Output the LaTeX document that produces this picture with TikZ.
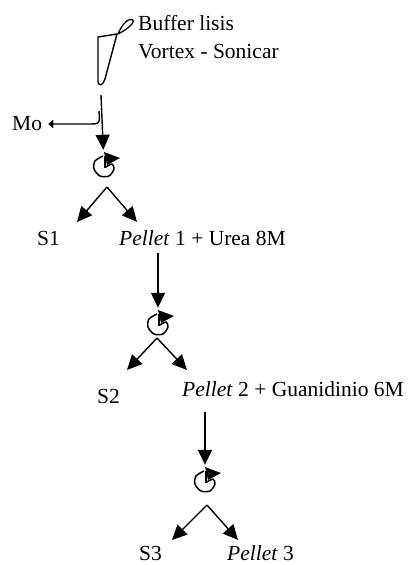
\documentclass[tikz,border=0pt]{standalone}
\usepackage{fontspec}
\setmainfont{Liberation Serif}
\usetikzlibrary{arrows.meta}

\tikzset{
	flow/.style={-{Triangle[width=14pt,length=15pt]}, line width=1.4pt},
	sidearrow/.style={-{Triangle[width=8pt,length=5pt]}, line width=1.4pt},
	tag/.style={inner sep=0, anchor=base west, font=\fontsize{21.5}{25}\selectfont},
	rotor/.style={minimum size=32pt, inner sep=0},
	pics/spin/.style={code={
		\draw[line width=1.5pt, line join=round]
			plot[smooth] coordinates {(-1,-10) (-9,-5) (-10,3) (-4,10) (5,10) (10,3) (8,-2) (2,1)};
		\draw[line width=1.5pt]
			(1,2) -- (1,-10);
		\fill
			(0,-14) -- (16,-8) -- (3,-1) -- cycle;
	}}
}

\begin{document}
\begin{tikzpicture}[x=1pt, y=-1pt]
			\useasboundingbox (0,0) rectangle (414,565);

			% tube
			\draw[line width=1.4pt, line join=round]
				(98,37) -- (117,34) -- (105,79) .. controls (103,85) and (99,87) .. (98,82) -- cycle;
			\draw[line width=1.3pt]
				(118,34) .. controls (122,24) and (129,17) .. (133,20) .. controls (135,24) and (124,31) .. (118,34);
			\node[tag] (buffer) at (138,30)
				{Buffer lisis};
			\node[tag] (vortex) at (138,58)
				{Vortex - Sonicar};
			\coordinate (tube) at (101,95);

			% step 1
			\node[rotor] (r1) at (104,166) {};
			\pic at (r1) {spin};
			\draw[flow]
				(tube) -- (r1);
			\node[tag] (mo) at (12,130)
				{Mo};
			\coordinate (split) at (99,111);
			\draw[sidearrow]
				(split) .. controls (100,124) .. (88,124) -- ([xshift=6pt]mo.east |- 0,124);
			\coordinate (a1) at (107,187);
			\coordinate (s1tip) at (77,222);
			\coordinate (p1tip) at (137,222);
			\draw[flow]
				(a1) -- (s1tip);
			\draw[flow]
				(a1) -- (p1tip);
			\node[tag] (s1) at (37,245)
				{S1};
			\node[tag] (p1) at (119,245)
				{\textit{Pellet} 1 + Urea 8M};

			% step 2
			\node[rotor] (r2) at (158,324) {};
			\pic at (r2) {spin};
			\draw[flow, shorten <=8pt]
				(p1.south -| r2) -- (r2);
			\coordinate (a2) at (157,338);
			\coordinate (s2tip) at (127,370);
			\coordinate (p2tip) at (187,370);
			\draw[flow]
				(a2) -- (s2tip);
			\draw[flow]
				(a2) -- (p2tip);
			\node[tag] (s2) at (97,403)
				{S2};
			\node[tag] (p2) at (182,396)
				{\textit{Pellet} 2 + Guanidinio 6M};

			% step 3
			\node[rotor] (r3) at (205,481) {};
			\pic at (r3) {spin};
			\draw[flow, shorten <=16pt]
				(p2.south -| r3) -- (r3);
			\coordinate (a3) at (207,505);
			\coordinate (s3tip) at (172,540);
			\coordinate (p3tip) at (238,540);
			\draw[flow]
				(a3) -- (s3tip);
			\draw[flow]
				(a3) -- (p3tip);
			\node[tag] (s3) at (139,560)
				{S3};
			\node[tag] (p3) at (227,560)
				{\textit{Pellet} 3};

		\end{tikzpicture}
\end{document}
